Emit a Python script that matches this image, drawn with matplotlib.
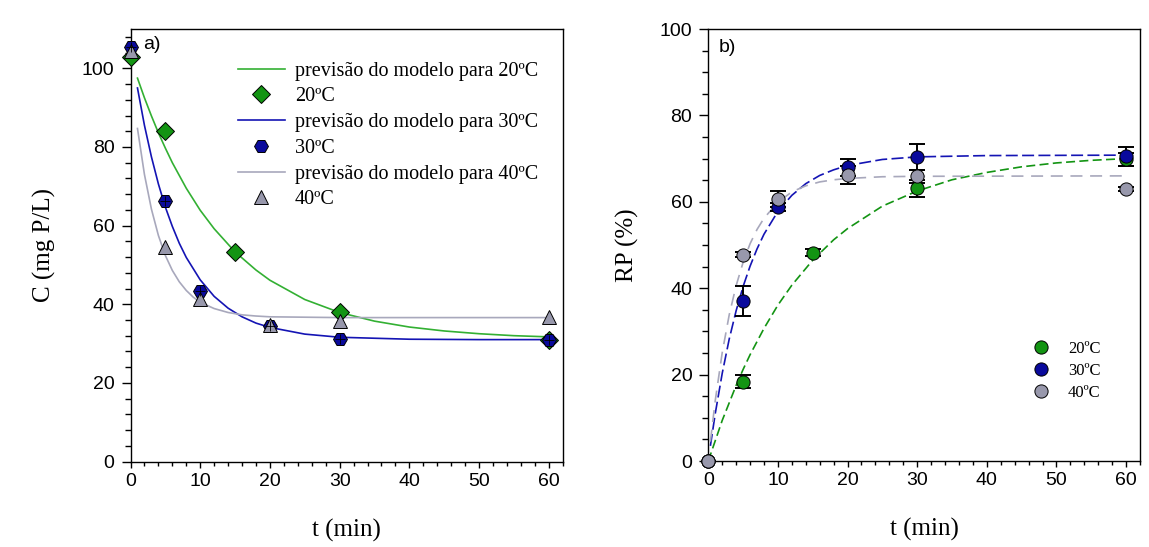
import matplotlib
matplotlib.use("Agg")
import matplotlib.pyplot as plt
from matplotlib.ticker import MultipleLocator

# ---- panel a: concentration data
t20_a = [0, 5, 15, 30, 60]
c20 = [103, 84, 53.3, 38, 31]
t30_a = [0, 5, 10, 20, 30, 60]
c30 = [105.5, 66.3, 43.3, 34.5, 31.2, 31]
t40_a = [0, 5, 10, 20, 30, 60]
c40 = [104.5, 54.5, 41.3, 34.8, 35.8, 36.8]

# model curves
tm20_a = [1, 2, 3, 4, 5, 6, 8, 10, 12, 15, 18, 20, 25, 30, 35, 40, 45, 50, 55, 60]
cm20 = [97.5, 92.5, 87.9, 83.6, 79.7, 76.0, 69.5, 63.9, 59.2, 53.3, 48.7, 46.1,
        41.2, 37.9, 35.7, 34.2, 33.2, 32.5, 32.0, 31.7]
tm30_a = [1, 2, 3, 4, 5, 6, 7, 8, 10, 12, 14, 16, 18, 20, 25, 30, 40, 50, 60]
cm30 = [95.0, 85.5, 77.5, 70.6, 64.7, 59.8, 55.5, 51.9, 46.2, 42.0, 39.0, 36.8,
        35.2, 34.1, 32.4, 31.6, 31.1, 31.0, 31.0]
tm40_a = [1, 2, 3, 4, 5, 6, 7, 8, 9, 10, 12, 14, 16, 18, 20, 30, 60]
cm40 = [84.7, 73.0, 64.2, 57.5, 52.4, 48.6, 45.7, 43.5, 41.8, 40.5, 38.9, 37.9,
        37.3, 37.0, 36.8, 36.6, 36.6]

# ---- panel b: removal percentage
t20_b = [0, 5, 15, 30, 60]
rp20 = [0, 18.3, 48.2, 63.1, 69.8]
e20 = [0, 1.5, 0.8, 2.0, 1.5]
t30_b = [0, 5, 10, 20, 30, 60]
rp30 = [0, 37.0, 58.8, 68.0, 70.4, 70.5]
e30 = [0, 3.5, 1.0, 2.0, 3.0, 2.2]
t40_b = [0, 5, 10, 20, 30, 60]
rp40 = [0, 47.8, 60.7, 66.2, 65.9, 62.9]
e40 = [0, 0.5, 1.8, 2.0, 1.5, 0.5]

tm20_b = [0, 2, 4, 5, 6, 8, 10, 12, 15, 18, 20, 25, 30, 35, 40, 45, 50, 55, 60]
rm20 = [0, 9.4, 17.5, 21.2, 24.6, 30.7, 36.1, 40.7, 46.5, 51.2, 53.8, 59.0,
        62.5, 65.1, 66.8, 68.1, 69.0, 69.6, 70.0]
tm30_b = [0.3, 1, 2, 3, 4, 5, 6, 7, 8, 10, 12, 14, 16, 18, 20, 25, 30, 40, 60]
rm30 = [3.5, 11.0, 20.3, 28.2, 34.8, 40.4, 45.1, 49.1, 52.5, 57.8, 61.5, 64.2,
        66.1, 67.4, 68.4, 69.8, 70.4, 70.7, 70.8]
tm40_b = [0.3, 1, 2, 3, 4, 5, 6, 7, 8, 10, 12, 14, 16, 18, 20, 25, 30, 60]
rm40 = [4.5, 14.0, 25.1, 33.8, 40.6, 46.0, 50.3, 53.6, 56.2, 59.9, 62.3, 63.7,
        64.6, 65.1, 65.4, 65.8, 65.9, 66.0]

green = '#139413'
blue = '#0a0a9c'
gray = '#9898ac'
green_l = '#33b033'
blue_l = '#1414b4'
gray_l = '#a8a8bc'

serif = 'Liberation Serif'
sans = 'Liberation Sans'

fig = plt.figure(figsize=(11.49, 5.47), dpi=100)
ax1 = fig.add_axes([130.5/1149, 85.5/547, 432.2/1149, 432.5/547])
ax2 = fig.add_axes([708.3/1149, 86/547, 431.7/1149, 432/547])

# panel a
ax1.plot(tm20_a, cm20, color=green_l, lw=1.2, label='previsão do modelo para 20ºC', zorder=2)
ax1.plot(t20_a, c20, 'D', color=green, mec='black', mew=0.7, ms=9.5, ls='none',
         label='20ºC', zorder=4, clip_on=False)
ax1.plot(tm30_a, cm30, color=blue_l, lw=1.2, label='previsão do modelo para 30ºC', zorder=2)
ax1.plot(t30_a, c30, 'H', color=blue, mec='black', mew=0.7, ms=10, ls='none',
         label='30ºC', zorder=4, clip_on=False)
ax1.plot(t30_a, c30, '+', color='black', mew=0.6, ms=7, ls='none', zorder=5, clip_on=False)
ax1.plot(tm40_a, cm40, color=gray_l, lw=1.2, label='previsão do modelo para 40ºC', zorder=2)
ax1.plot(t40_a, c40, '^', color=gray, mec='black', mew=0.7, ms=10, ls='none',
         label='40ºC', zorder=4, clip_on=False)

ax1.set_xlim(0, 62)
ax1.set_ylim(0, 110)
ax1.xaxis.set_major_locator(MultipleLocator(10))
ax1.xaxis.set_minor_locator(MultipleLocator(2))
ax1.yaxis.set_major_locator(MultipleLocator(20))
ax1.yaxis.set_minor_locator(MultipleLocator(4))
ax1.set_xlabel('t (min)', fontfamily=serif, fontsize=18, labelpad=21)
ax1.set_ylabel('C (mg P/L)', fontfamily=serif, fontsize=18, labelpad=19)
ax1.text(0.029, 0.965, 'a)', transform=ax1.transAxes, fontfamily=sans, fontsize=14, va='center')
ax1.legend(loc='upper left', bbox_to_anchor=(0.24, 0.934), frameon=False,
           prop={'family': serif, 'size': 14.5}, handlelength=2.3,
           handletextpad=0.5, labelspacing=0.33, borderaxespad=0.0, borderpad=0.2)

# panel b
ax2.plot(tm20_b, rm20, color=green, lw=1.2, dashes=(5.4, 2.6), zorder=2)
ax2.plot(tm30_b, rm30, color=blue_l, lw=1.2, dashes=(7.2, 2.6), zorder=2)
ax2.plot(tm40_b, rm40, color=gray_l, lw=1.2, dashes=(7.2, 4.6), zorder=2)
for tt, yy, ee, cc, lab in [(t20_b, rp20, e20, green, '20ºC'),
                            (t30_b, rp30, e30, blue, '30ºC'),
                            (t40_b, rp40, e40, gray, '40ºC')]:
    ax2.errorbar(tt, yy, yerr=ee, fmt='none', ecolor='black', elinewidth=1.4,
                 capsize=5.5, capthick=1.4, zorder=3)
    ax2.plot(tt, yy, 'o', color=cc, mec='black', mew=0.7, ms=9.5, ls='none',
             label=lab, zorder=4, clip_on=False)

ax2.set_xlim(0, 62)
ax2.set_ylim(0, 100)
ax2.xaxis.set_major_locator(MultipleLocator(10))
ax2.xaxis.set_minor_locator(MultipleLocator(2))
ax2.yaxis.set_major_locator(MultipleLocator(20))
ax2.yaxis.set_minor_locator(MultipleLocator(5))
ax2.set_xlabel('t (min)', fontfamily=serif, fontsize=18, labelpad=21)
ax2.set_ylabel('RP (%)', fontfamily=serif, fontsize=18, labelpad=15)
ax2.text(0.023, 0.957, 'b)', transform=ax2.transAxes, fontfamily=sans, fontsize=14, va='center')
ax2.legend(loc='center left', bbox_to_anchor=(0.751, 0.208), frameon=False,
           prop={'family': serif, 'size': 12}, handlelength=1.0, handletextpad=1.12,
           labelspacing=0.35, borderaxespad=0.0, borderpad=0.0)

for ax in (ax1, ax2):
    ax.tick_params(which='both', direction='out', top=False, right=False, labelsize=14)
    ax.tick_params(axis='y', which='major', length=6.5, width=1, pad=5)
    ax.tick_params(axis='y', which='minor', length=4.3, width=1)
    ax.tick_params(axis='x', which='major', length=4.5, width=1, pad=3.5)
    ax.tick_params(axis='x', which='minor', length=3, width=1)
    for lb in ax.get_xticklabels() + ax.get_yticklabels():
        lb.set_fontfamily(sans)
    for sp in ax.spines.values():
        sp.set_linewidth(1)

fig.savefig('out.png', dpi=100)
